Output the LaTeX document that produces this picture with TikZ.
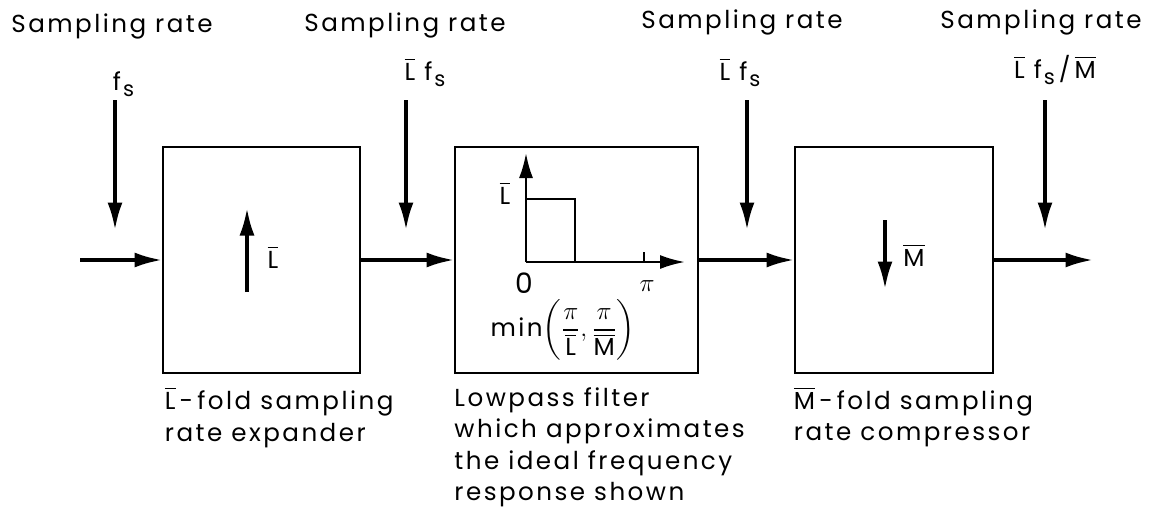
\documentclass[tikz,border=0pt]{standalone}
\usepackage{fontspec}
\setmainfont{Poppins}[LetterSpace=10]
\usepackage{amsmath}
\usetikzlibrary{arrows.meta,positioning}

\newcommand{\Lb}{$\overline{\mbox{L}}$}
\newcommand{\Mb}{$\overline{\mbox{M}}$}
\newcommand{\fs}{f\kern0.08em\raisebox{-0.5ex}{\fontsize{12}{12}\selectfont s}}

\begin{document}
\begin{tikzpicture}[
  font=\fontsize{14}{18}\selectfont,
  block/.style={draw, line width=1pt, minimum height=4.52cm, inner sep=0pt},
  arr/.style={-{Latex[length=5.5mm,width=3mm]}, line width=2pt},
  axis/.style={-{Latex[length=5mm,width=2.8mm]}, line width=1.4pt},
  rate/.style={anchor=base, inner sep=0pt},
  note/.style={align=left, inner sep=0pt}
]
  \useasboundingbox (0,0) rectangle (23.1,-10.42);

  % Blocks
  \node[block, minimum width=3.94cm] (expander) at (5.23,-5.2) {};
  \node[block, minimum width=4.86cm] (filter) at (11.53,-5.2) {};
  \node[block, minimum width=3.96cm] (compressor) at (17.88,-5.2) {};

  % Signal path
  \coordinate (in) at (1.6,-5.2);
  \coordinate (out) at (21.86,-5.2);
  \draw[arr] (in) -- (expander);
  \draw[arr] (expander) -- (filter);
  \draw[arr] (filter) -- (compressor);
  \draw[arr] (compressor) -- (out);

  % Sampling rates
  \foreach \x [count=\i] in {2.3,8.12,14.94,20.9} {
    \coordinate (src\i) at (\x,-2.0);
    \coordinate (dst\i) at (\x,-4.6);
    \draw[arr] (src\i) -- (dst\i);
  }
  \node[rate] (rate1) at (2.24,-0.64) {Sampling rate};
  \node[rate] (rate2) at (8.1,-0.62) {Sampling rate};
  \node[rate] (rate3) at (14.84,-0.56) {Sampling rate};
  \node[rate] (rate4) at (20.82,-0.56) {Sampling rate};
  \node[rate] (val1) at (2.47,-1.8) {\fs};
  \node[rate] (val2) at (8.5,-1.6) {\Lb\ \fs};
  \node[rate] (val3) at (14.8,-1.6) {\Lb\ \fs};
  \node[rate] (val4) at (21.1,-1.56) {\Lb\ \fs\,/\,\Mb};

  % Expander symbol
  \coordinate (upfrom) at (4.94,-5.84);
  \coordinate (upto) at (4.94,-4.16);
  \draw[arr] (upfrom) -- (upto);
  \node[inner sep=0pt] (upl) at (5.46,-5.14) {\Lb};

  % Ideal lowpass response
  \coordinate (o) at (10.52,-5.24);
  \coordinate (ytip) at (10.52,-3.06);
  \coordinate (xtip) at (13.7,-5.24);
  \coordinate (cut) at (11.5,-5.24);
  \coordinate (pitick) at (12.88,-5.24);
  \draw[axis] (o) -- (ytip);
  \draw[axis] (o) -- (xtip);
  \draw[line width=1.6pt] (o |- 0,-3.98) -| (cut);
  \draw[line width=1.2pt] (pitick) -- ++(0,0.2);
  \node[inner sep=0pt] (gain) at (10.1,-3.86) {\Lb};
  \node[inner sep=0pt, font=\fontsize{16}{18}\selectfont] (zero) at (10.48,-5.66) {0};
  \node[inner sep=0pt] (pilbl) at (12.94,-5.72) {$\pi$};
  \node[inner sep=0pt] (edge) at (11.26,-6.6)
    {\mbox{min}$\left(\dfrac{\pi}{\overline{\mbox{L}}},\dfrac{\pi}{\overline{\mbox{M}}}\right)$};

  % Compressor symbol
  \coordinate (dnfrom) at (17.7,-4.4);
  \coordinate (dnto) at (17.7,-5.78);
  \draw[arr] (dnfrom) -- (dnto);
  \node[inner sep=0pt] (dnl) at (18.28,-5.1) {\Mb};

  % Captions
  \node[note, below right=2.6mm and 0.5mm of expander.south west] (explbl)
    {\Lb\,-\,fold sampling\\rate expander};
  \node[note, below right=2.6mm and 0mm of filter.south west] (filtlbl)
    {Lowpass filter\\which approximates\\the ideal frequency\\response shown};
  \node[note, below right=2.6mm and -0.1mm of compressor.south west] (cmplbl)
    {\Mb\,-\,fold sampling\\rate compressor};
\end{tikzpicture}
\end{document}
